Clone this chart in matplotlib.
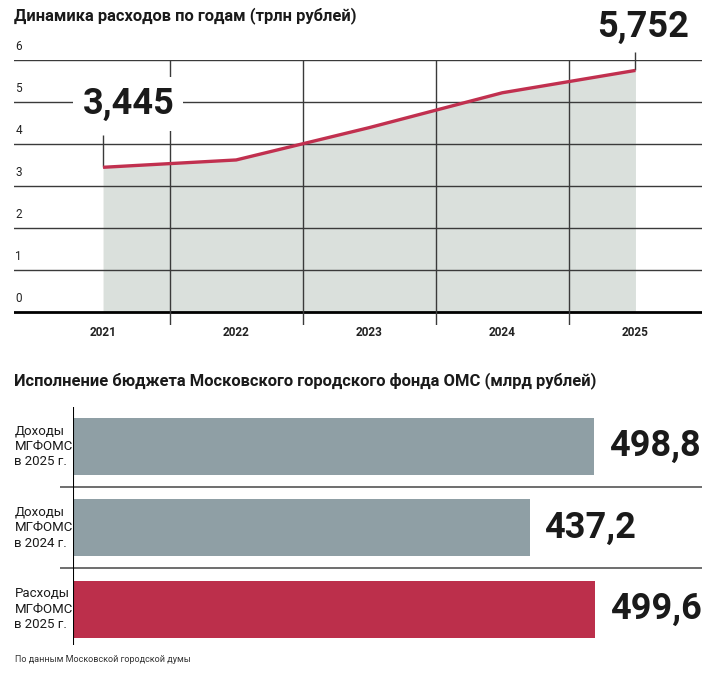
import matplotlib
matplotlib.use("Agg")
import matplotlib.pyplot as plt

plt.rcParams['font.family'] = ['Liberation Sans Narrow', 'Roboto', 'DejaVu Sans']

# top chart: expenses by year, trillion rubles
years = ["2021", "2022", "2023", "2024", "2025"]
spend = [3.445, 3.62, 4.39, 5.22, 5.752]
y_ticks = [0, 1, 2, 3, 4, 5, 6]

# bottom chart: Moscow city OMS fund budget, billion rubles
bar_labels = ["Доходы\nМГФОМС\nв 2025 г.", "Доходы\nМГФОМС\nв 2024 г.", "Расходы\nМГФОМС\nв 2025 г."]
bar_values = [498.8, 437.2, 499.6]
bar_texts = ["498,8", "437,2", "499,6"]

LINE_RED = "#c1304f"
BAR_GRAY = "#8f9fa5"
BAR_RED = "#bc2f4b"
FILL = "#dae0dc"
GRID = "#3a3a3a"
NUM_FONT = ['Roboto', 'DejaVu Sans']

fig = plt.figure(figsize=(7.2, 6.75), dpi=100)
fig.patch.set_facecolor("white")

# ---- top: line chart ----
ax1 = fig.add_axes([14 / 720, 1 - 325 / 675, 688 / 720, 265 / 675])
x = list(range(len(years)))
ax1.set_xlim(-0.669, 4.5)
ax1.set_ylim(-0.31, 6)
ax1.axis("off")

ax1.fill_between(x, 0, spend, color=FILL, lw=0, zorder=1)
for v in y_ticks[1:]:
    ax1.axhline(v, color=GRID, lw=1, zorder=2)
ax1.axhline(0, color="black", lw=2, zorder=2)
ax1.vlines([i + 0.5 for i in x[:-1]], -0.31, 6, color=GRID, lw=1, zorder=2)
ax1.plot(x, spend, color=LINE_RED, lw=2.4, zorder=4, solid_capstyle="butt")

for v in y_ticks:
    ax1.text(-0.66, v + 0.17, str(v), fontsize=8.5, color="#222222",
             ha="left", va="bottom", zorder=5)
for i, yr in enumerate(years):
    ax1.text(i, -0.34, yr, fontsize=8.5, fontweight="bold", color="#222222",
             ha="center", va="top", clip_on=False)

# callouts for first and last values
ax1.vlines(0, spend[0], spend[0] + 0.77, color=GRID, lw=1, zorder=3)
ax1.text(0.19, 4.95, "3,445", fontsize=26, fontweight="bold", family=NUM_FONT,
         color="#1a1a1a", ha="center", va="center", zorder=6,
         bbox=dict(boxstyle="square,pad=0.25", fc="white", ec="none"))
ax1.vlines(4, spend[-1], spend[-1] + 0.43, color=GRID, lw=1, zorder=3, clip_on=False)
ax1.text(4.06, 6.8, "5,752", fontsize=26, fontweight="bold", family=NUM_FONT,
         color="#1a1a1a", ha="center", va="center", clip_on=False)

fig.text(14 / 720, 1 - 16 / 675, "Динамика расходов по годам (трлн рублей)",
         fontsize=11.9, fontweight="bold", color="#1a1a1a", ha="left", va="center")

# ---- bottom: bar chart ----
ax2 = fig.add_axes([73 / 720, 1 - 645 / 675, 629 / 720, 238 / 675])
ax2.set_xlim(0, 602)
ax2.set_ylim(2.44, -0.479)
ax2.axis("off")
yb = list(range(len(bar_values)))
ax2.barh(yb, bar_values, height=0.70, color=[BAR_GRAY, BAR_GRAY, BAR_RED], zorder=2)
ax2.axvline(0, color="black", lw=1.5, zorder=3)
ax2.hlines([0.5, 1.5], -12.5, 602, color="#555555", lw=1.2, clip_on=False)
for i, (v, t) in enumerate(zip(bar_values, bar_texts)):
    ax2.text(v + 14, i, t, fontsize=26, fontweight="bold", family=NUM_FONT,
             color="#1a1a1a", ha="left", va="center")
for i, lab in enumerate(bar_labels):
    ax2.text(-56, i, lab, fontsize=9.5, color="#1a1a1a", ha="left", va="center",
             linespacing=1.25, clip_on=False)

fig.text(14 / 720, 1 - 381 / 675,
         "Исполнение бюджета Московского городского фонда ОМС (млрд рублей)",
         fontsize=11.9, fontweight="bold", color="#1a1a1a", ha="left", va="center")
fig.text(15 / 720, 1 - 660 / 675, "По данным Московской городской думы",
         fontsize=6.5, color="#333333", ha="left", va="center")

fig.savefig("out.png", dpi=100, facecolor="white")
